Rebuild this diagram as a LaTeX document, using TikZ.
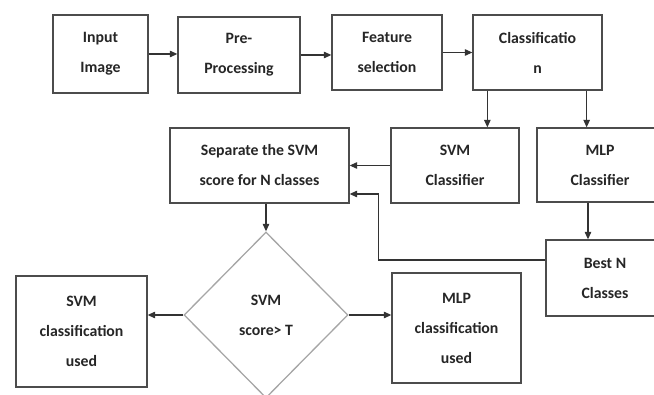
\documentclass[tikz,border=0pt]{standalone}
\usepackage{fontspec}
\setmainfont{Carlito}
\usepackage{tikz}
\usetikzlibrary{arrows.meta}
\usetikzlibrary{calc, shapes.geometric}
\tikzstyle{block}=[rectangle, draw=black!70, line width=1.3pt, align=center, inner sep=0pt]
\tikzstyle{decision}=[diamond, draw=black!35, line width=1.3pt, align=center, inner sep=0pt, minimum width=164pt, minimum height=166pt]
\tikzstyle{link}=[->, draw=black!80]

\begin{document}
\begin{tikzpicture}[x=1pt, y=-1pt]

\useasboundingbox (0,0) rectangle (654,395);
\clip (0,0) rectangle (654,395);

\tikzset{>={Triangle[length=7.5pt, width=6.5pt]}}
\tikzset{every node/.style={font=\bfseries\fontsize{15.8pt}{30pt}\selectfont, text=black!85}}
\tikzset{every path/.style={line width=1.1pt}}

% top row
\node[block, minimum width=95pt, minimum height=78pt] (input) at (100.5,54) {Input\\Image};
\node[block, minimum width=122pt, minimum height=76pt] (pre) at (239,55) {Pre-\\Processing};
\node[block, minimum width=110pt, minimum height=75pt] (feat) at (387,52.5) {Feature\\selection};
\node[block, minimum width=129pt, minimum height=75pt] (classif) at (537.5,52.5) {Classificatio\\n};

% classifiers
\node[block, minimum width=179pt, minimum height=75pt] (sep) at (259.5,165.5) {Separate the SVM\\score for N classes};
\node[block, minimum width=128pt, minimum height=75pt] (svmc) at (455,165.5) {SVM\\Classifier};
\node[block, minimum width=126pt, minimum height=74pt] (mlpc) at (600,165) {MLP\\Classifier};
\node[block, minimum width=118pt, minimum height=76pt] (bestn) at (605,278) {Best N\\Classes};

% decision
\node[decision] (dec) at (266,315) {SVM\\score> T};
\node[block, minimum width=131pt, minimum height=111pt] (svmu) at (81.5,331.5) {SVM\\classification\\used};
\node[block, minimum width=129pt, minimum height=110pt] (mlpu) at (456.5,328) {MLP\\classification\\used};

\draw[link] (input.east) -- (pre.west |- input.east);
\draw[link] (pre.east) -- (feat.west |- pre.east);
\draw[link] (feat.east) -- (classif.west |- feat.east);
\draw[link] ([xshift=15pt]classif.south west) -- ([xshift=15pt]classif.south west |- svmc.north); % to SVM
\draw[link] ([xshift=-16pt]classif.south east) -- ([xshift=-16pt]classif.south east |- mlpc.north); % to MLP
\draw[link] (svmc.west) -- (sep.east |- svmc.west);
\draw[link] ([xshift=-12pt]mlpc.south) -- ([xshift=-12pt]mlpc.south |- bestn.north);
\draw[link] ([yshift=18pt]bestn.west) -- ++(-167,0) |- ([yshift=-28.5pt]sep.east); % best N -> separate
\draw[link] (sep.south -| dec.north) -- (dec.north);
\draw[link] (dec.west) -- (svmu.east |- dec.west);
\draw[link] (dec.east) -- (mlpu.west |- dec.east);

\end{tikzpicture}
\end{document}
